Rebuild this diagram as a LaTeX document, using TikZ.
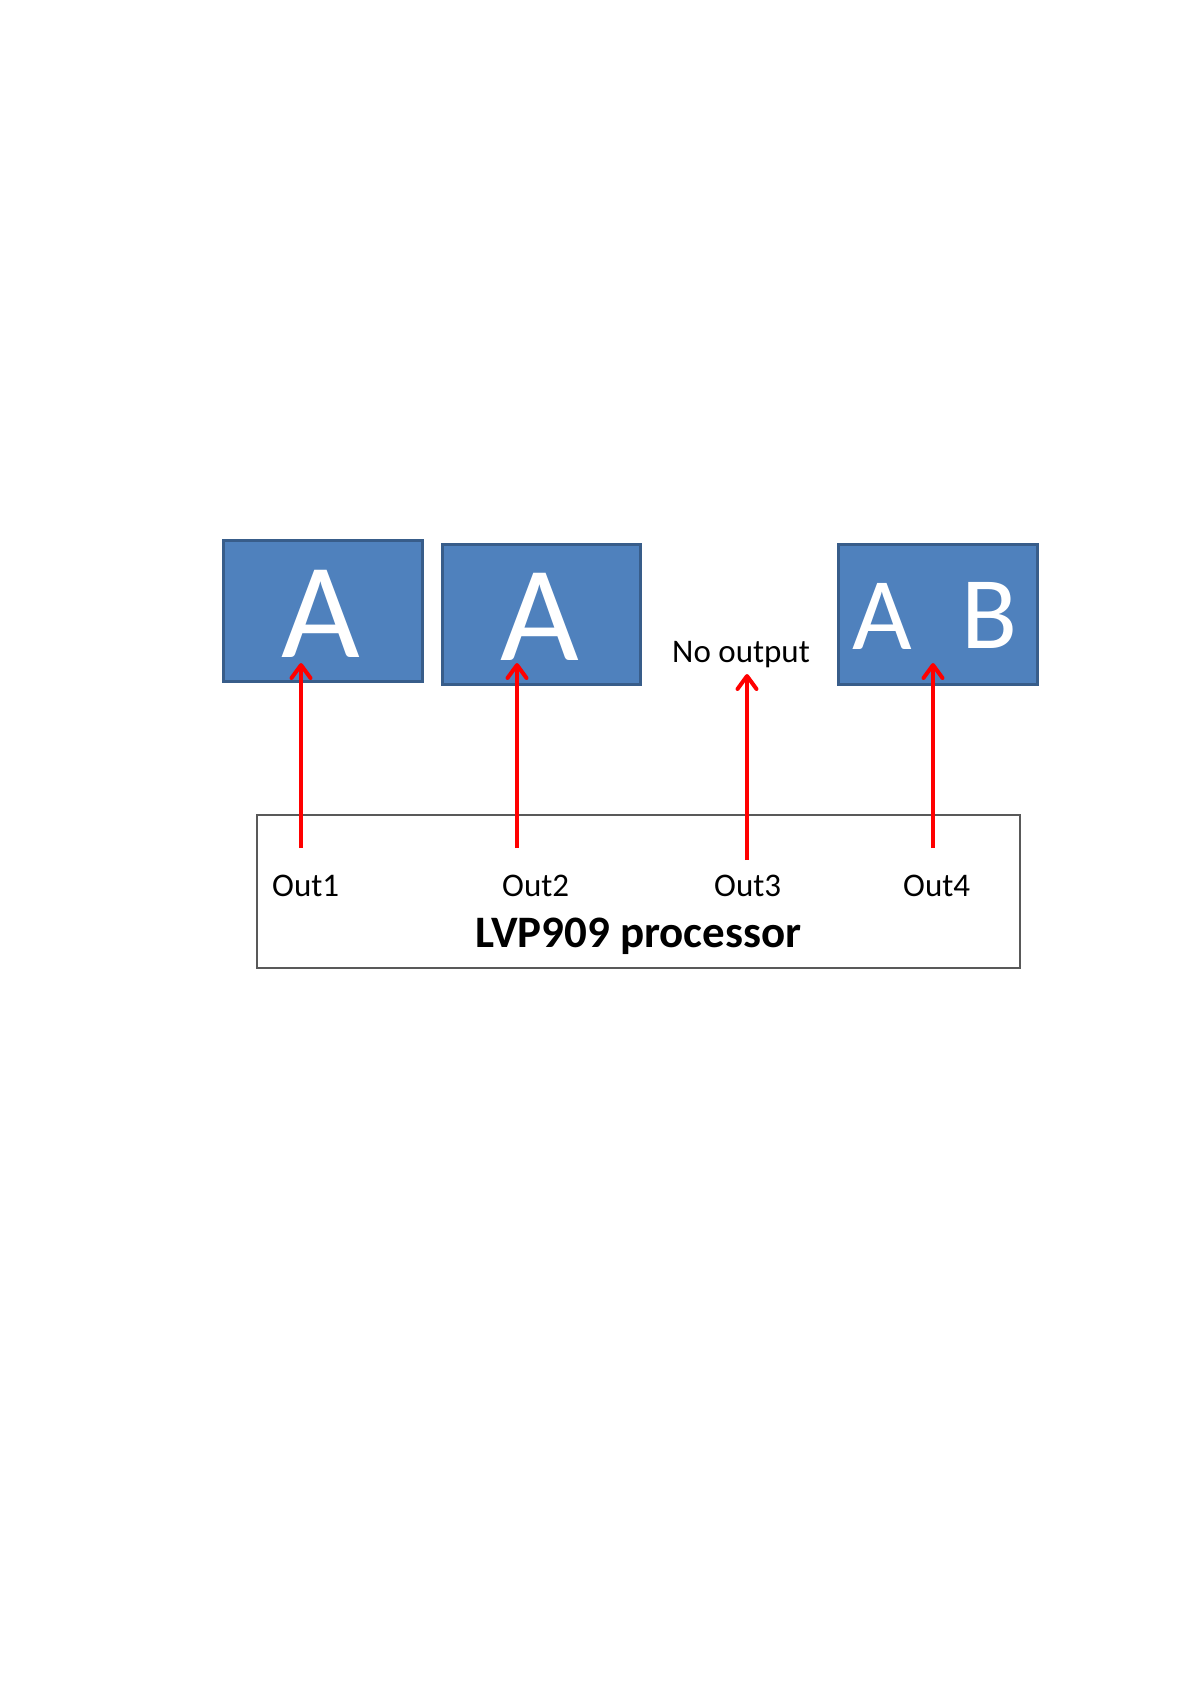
\documentclass[tikz,border=0pt]{standalone}
\usepackage{fontspec}
\setmainfont{Carlito}
\usetikzlibrary{arrows.meta}
\definecolor{scrfill}{HTML}{4F81BD}
\definecolor{scrline}{HTML}{385D8A}
\definecolor{boxline}{HTML}{595959}
\definecolor{arrred}{HTML}{FF0000}
\tikzset{
  screen/.style={fill=scrfill, draw=scrline, line width=3pt},
  procbox/.style={draw=boxline, line width=1.5pt, fill=white},
  bigletter/.style={text=white, inner sep=0pt, anchor=base},
  outlabel/.style={inner sep=0pt, anchor=base west, font=\fontsize{33}{40}\selectfont},
  outarrow/.style={draw=arrred, line width=4pt, -{Straight Barb[length=13pt,width=19pt,line width=4pt,round]}}
}
\begin{document}
\begin{tikzpicture}[x=1pt,y=-1pt]
\useasboundingbox[fill=white] (0,0) rectangle (1192,1686);
% screens
\draw[screen] (223,540) rectangle (422,681);
\draw[screen] (442,544) rectangle (640,684);
\draw[screen] (838,544) rectangle (1037,684);
\node[bigletter, font=\fontsize{136}{160}\selectfont] (a1) at (321,657) {A};
\node[bigletter, font=\fontsize{136}{160}\selectfont] (a2) at (540,660) {A};
\node[bigletter, font=\fontsize{103}{120}\selectfont] (a4) at (882,649) {A};
\node[bigletter, font=\fontsize{103}{120}\selectfont] (b4) at (990,648) {B};
\node[inner sep=0pt, anchor=base west, font=\fontsize{33}{40}\selectfont] (noout) at (672,662) {No output};
% processor
\draw[procbox] (257,815) rectangle (1020,968);
\node[outlabel] (o1) at (272,896) {Out1};
\node[outlabel] (o2) at (502,896) {Out2};
\node[outlabel] (o3) at (714,896) {Out3};
\node[outlabel] (o4) at (903,896) {Out4};
\node[inner sep=0pt, anchor=base, font=\bfseries\fontsize{45}{54}\selectfont] (proc) at (638.5,947) {LVP909 processor};
% arrow endpoints
\coordinate (s1) at (301,848);
\coordinate (t1) at (301,663);
\coordinate (s2) at (517,848);
\coordinate (t2) at (517,663);
\coordinate (s3) at (747,860);
\coordinate (t3) at (747,674);
\coordinate (s4) at (933,848);
\coordinate (t4) at (933,663);
\draw[outarrow] (s1) -- (t1);
\draw[outarrow] (s2) -- (t2);
\draw[outarrow] (s3) -- (t3);
\draw[outarrow] (s4) -- (t4);
\end{tikzpicture}
\end{document}
